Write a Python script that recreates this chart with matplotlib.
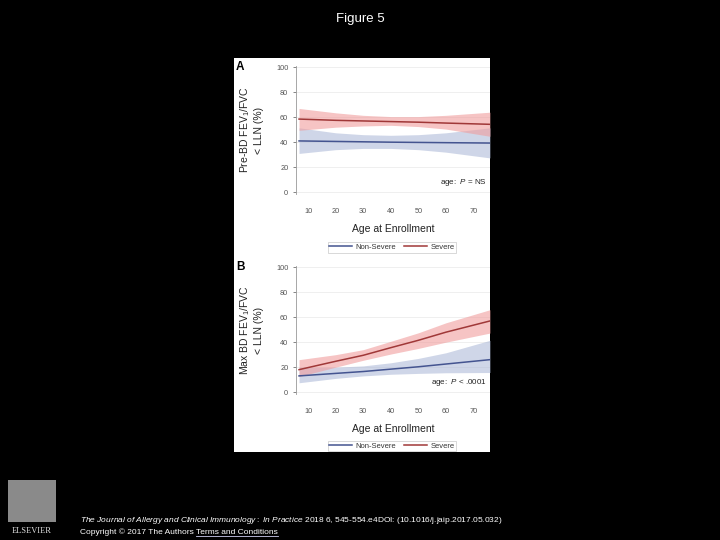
import numpy as np
import matplotlib
matplotlib.use("Agg")
import matplotlib.pyplot as plt
from matplotlib.patches import Rectangle

plt.rcParams['font.family'] = ['Liberation Sans', 'DejaVu Sans']
plt.rcParams['mathtext.fontset'] = 'custom'
plt.rcParams['mathtext.it'] = 'Liberation Sans:italic'
plt.rcParams['mathtext.rm'] = 'Liberation Sans'

# ---------- Datos ----------
ages = [6.7, 20, 30, 40, 50, 60, 76]

# Panel A: Pre-BD
a_sev_mid = [58.5, 57.5, 57.0, 56.5, 56.0, 55.3, 54.3]
a_sev_lo = [49.5, 52.0, 53.0, 53.5, 52.5, 50.5, 44.7]
a_sev_hi = [67.0, 63.5, 61.5, 60.5, 60.5, 61.5, 64.0]
a_non_mid = [41.0, 40.6, 40.3, 40.0, 39.8, 39.6, 39.3]
a_non_lo = [31.0, 34.0, 35.0, 35.0, 34.0, 32.0, 27.4]
a_non_hi = [51.5, 47.5, 46.0, 45.5, 46.0, 47.5, 51.5]

# Panel B: Max BD
b_sev_mid = [18.0, 24.7, 29.5, 35.6, 41.5, 48.0, 57.0]
b_sev_lo = [12.5, 20.0, 25.5, 30.5, 35.0, 40.0, 47.3]
b_sev_hi = [26.0, 30.0, 34.0, 40.7, 47.5, 55.5, 66.0]
b_non_mid = [13.0, 15.0, 16.5, 18.4, 20.3, 22.5, 26.0]
b_non_lo = [7.5, 11.0, 13.0, 14.3, 15.0, 15.5, 15.7]
b_non_hi = [20.0, 20.0, 21.0, 23.5, 27.0, 31.5, 41.5]

xticks = [10, 20, 30, 40, 50, 60, 70]
yticks = [0, 20, 40, 60, 80, 100]

red_line = "#a03838"
red_band = "#f09d9d"
blue_line = "#445490"
blue_band = "#afbbd9"
tick_col = "#555555"

fig = plt.figure(figsize=(7.2, 5.4), dpi=100, facecolor="black")

# Panel blanco
fig.patches.append(Rectangle((234 / 720, 1 - 452 / 540), 256 / 720, 394 / 540,
                             transform=fig.transFigure, facecolor="white",
                             edgecolor="none", zorder=-5))

def panel(rect, mid_s, lo_s, hi_s, mid_n, lo_n, hi_n, ylab, ptxt, letter):
    ax = fig.add_axes(rect)
    ax.set_facecolor("white")
    ax.fill_between(ages, lo_n, hi_n, color=blue_band, alpha=0.6, lw=0)
    ax.fill_between(ages, lo_s, hi_s, color=red_band, alpha=0.6, lw=0)
    ax.plot(ages, mid_n, color=blue_line, lw=1.1, label="Non-Severe")
    ax.plot(ages, mid_s, color=red_line, lw=1.1, label="Severe")
    ax.set_xlim(5.6, 76)
    ax.set_ylim(-1.5, 101)
    ax.set_xticks(xticks)
    ax.set_yticks(yticks)
    ax.yaxis.grid(True, color="#ececec", lw=0.6)
    ax.set_axisbelow(True)
    for s in ["top", "right", "bottom"]:
        ax.spines[s].set_visible(False)
    ax.spines["left"].set_color("#999999")
    ax.spines["left"].set_linewidth(0.6)
    ax.tick_params(axis="both", labelsize=5.3, colors=tick_col, length=2,
                   width=0.5)
    ax.tick_params(axis="x", length=0, pad=10)
    ax.set_xlabel("Age at Enrollment", fontsize=7.5, color="#222222")
    ax.xaxis.set_label_coords(0.5, -0.235)
    ax.set_ylabel(ylab, fontsize=7.5, color="#222222", linespacing=1.25)
    ax.yaxis.set_label_coords(-0.165, 0.5)
    ax.text(0.985, 0.05, ptxt, transform=ax.transAxes, ha="right",
            va="bottom", fontsize=5.8, color="#222222")
    fig.text(236 / 720, rect[1] + rect[3] - 0.002, letter, fontsize=8.5,
             fontweight="bold", color="black", va="center")
    return ax

axA = panel([296 / 720, 1 - 194 / 540, 194 / 720, 128 / 540],
            a_sev_mid, a_sev_lo, a_sev_hi, a_non_mid, a_non_lo, a_non_hi,
            "Pre-BD FEV$_1$/FVC\n< LLN (%)",
            "age:\u2002$\\mathit{P}$ = NS", "A")
axB = panel([296 / 720, 1 - 394 / 540, 194 / 720, 128 / 540],
            b_sev_mid, b_sev_lo, b_sev_hi, b_non_mid, b_non_lo, b_non_hi,
            "Max BD FEV$_1$/FVC\n< LLN (%)",
            "age:\u2002$\\mathit{P}$ < .0001", "B")

for ax, ly in [(axA, 247.5), (axB, 446)]:
    h, l = ax.get_legend_handles_labels()
    leg = fig.legend(h, l, loc="center", bbox_to_anchor=(392 / 720, 1 - ly / 540),
                     ncol=2, fontsize=5.5, frameon=True, fancybox=False,
                     borderpad=0.2, handlelength=3.0, columnspacing=1.0,
                     handletextpad=0.5)
    leg.get_frame().set_edgecolor("#bbbbbb")
    leg.get_frame().set_linewidth(0.5)
    for t in leg.get_texts():
        t.set_color("#333333")

# Título y pie
fig.text(0.5, 1 - 19 / 540, "Figure 5", ha="center", va="center",
         color="white", fontsize=9.5)
fig.text(80 / 720, 1 - 520 / 540,
         "$\\mathit{The\\ Journal\\ of\\ Allergy\\ and\\ Clinical\\ Immunology:\\ In\\ Practice}$"
         " 2018 6, 545-554.e4DOI: (10.1016/j.jaip.2017.05.032)",
         color="white", fontsize=6, va="center")
t1 = fig.text(80 / 720, 1 - 532 / 540, "Copyright © 2017 The Authors",
              color="white", fontsize=6, va="center")
fig.canvas.draw()
bb = t1.get_window_extent()
x_terms = bb.x1 / 720 + 2 / 720
t2 = fig.text(x_terms, 1 - 532 / 540, "Terms and Conditions", color="white",
              fontsize=6, va="center")
bb2 = t2.get_window_extent()
fig.lines.append(plt.Line2D([x_terms, bb2.x1 / 720], [1 - 536 / 540, 1 - 536 / 540],
                            transform=fig.transFigure, color="#ccccee", lw=0.6))

# Logo Elsevier (aproximado)
fig.patches.append(Rectangle((8 / 720, 1 - 522 / 540), 48 / 720, 42 / 540,
                             transform=fig.transFigure, facecolor="#8a8a8a",
                             edgecolor="none"))
fig.text(32 / 720, 1 - 531 / 540, "ELSEVIER", ha="center", va="center",
         color="#dddddd", fontsize=6, family="Liberation Serif")

fig.savefig("out.png", dpi=100, facecolor="black")
